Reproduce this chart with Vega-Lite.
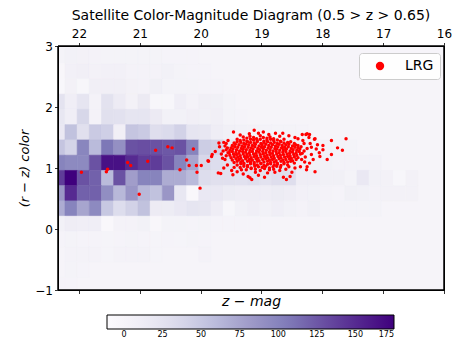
{
  "$schema": "https://vega.github.io/schema/vega-lite/v6.json",
  "width": 386,
  "height": 244,
  "autosize": {"type": "none"},
  "padding": {"left": 58, "top": 46, "right": 16, "bottom": 55},
  "title": {"text": "Satellite Color-Magnitude Diagram (0.5 > z > 0.65)", "fontSize": 14, "fontWeight": "normal", "font": "DejaVu Sans", "color": "#000", "offset": 5},
  "config": {
    "font": "DejaVu Sans",
    "view": {"fill": "#f6f4f9", "stroke": "#000", "strokeWidth": 1},
    "axis": {"domain": true, "domainColor": "#000", "domainWidth": 1, "grid": false, "tickColor": "#000", "tickSize": 3.5, "tickWidth": 0.8, "labelColor": "#000", "labelFont": "DejaVu Sans", "labelFontSize": 12, "titleFont": "DejaVu Sans", "titleColor": "#000", "titleFontWeight": "normal", "labelFlush": false, "labelOverlap": false}
  },
  "datasets": {
    "cells": [
        {"m0":22.23,"m1":22.43,"c0":2.71,"c1":2.96,"n":3},{"m0":22.03,"m1":22.23,"c0":2.71,"c1":2.96,"n":6},{"m0":21.83,"m1":22.03,"c0":2.71,"c1":2.96,"n":5},{"m0":21.63,"m1":21.83,"c0":2.71,"c1":2.96,"n":4},{"m0":21.43,"m1":21.63,"c0":2.71,"c1":2.96,"n":3},{"m0":21.23,"m1":21.43,"c0":2.71,"c1":2.96,"n":3},{"m0":21.03,"m1":21.23,"c0":2.71,"c1":2.96,"n":3},{"m0":20.83,"m1":21.03,"c0":2.71,"c1":2.96,"n":3},{"m0":20.63,"m1":20.83,"c0":2.71,"c1":2.96,"n":3},{"m0":20.43,"m1":20.63,"c0":2.71,"c1":2.96,"n":2},{"m0":20.23,"m1":20.43,"c0":2.71,"c1":2.96,"n":2},{"m0":20.03,"m1":20.23,"c0":2.71,"c1":2.96,"n":2},
        {"m0":22.23,"m1":22.43,"c0":2.46,"c1":2.71,"n":-3},{"m0":22.03,"m1":22.23,"c0":2.46,"c1":2.71,"n":7},{"m0":21.83,"m1":22.03,"c0":2.46,"c1":2.71,"n":9},{"m0":21.63,"m1":21.83,"c0":2.46,"c1":2.71,"n":5},{"m0":21.43,"m1":21.63,"c0":2.46,"c1":2.71,"n":7},{"m0":21.23,"m1":21.43,"c0":2.46,"c1":2.71,"n":7},{"m0":21.03,"m1":21.23,"c0":2.46,"c1":2.71,"n":4},{"m0":20.83,"m1":21.03,"c0":2.46,"c1":2.71,"n":4},{"m0":20.63,"m1":20.83,"c0":2.46,"c1":2.71,"n":4},{"m0":20.43,"m1":20.63,"c0":2.46,"c1":2.71,"n":6},{"m0":20.23,"m1":20.43,"c0":2.46,"c1":2.71,"n":3},{"m0":20.03,"m1":20.23,"c0":2.46,"c1":2.71,"n":2},{"m0":19.83,"m1":20.03,"c0":2.46,"c1":2.71,"n":2},
        {"m0":22.23,"m1":22.43,"c0":2.21,"c1":2.46,"n":-4},{"m0":22.03,"m1":22.23,"c0":2.21,"c1":2.46,"n":5},{"m0":21.83,"m1":22.03,"c0":2.21,"c1":2.46,"n":-2},{"m0":21.63,"m1":21.83,"c0":2.21,"c1":2.46,"n":9},{"m0":21.43,"m1":21.63,"c0":2.21,"c1":2.46,"n":9},{"m0":21.23,"m1":21.43,"c0":2.21,"c1":2.46,"n":9},{"m0":21.03,"m1":21.23,"c0":2.21,"c1":2.46,"n":5},{"m0":20.83,"m1":21.03,"c0":2.21,"c1":2.46,"n":4},{"m0":20.63,"m1":20.83,"c0":2.21,"c1":2.46,"n":8},{"m0":20.43,"m1":20.63,"c0":2.21,"c1":2.46,"n":3},{"m0":20.23,"m1":20.43,"c0":2.21,"c1":2.46,"n":3},{"m0":20.03,"m1":20.23,"c0":2.21,"c1":2.46,"n":3},{"m0":19.83,"m1":20.03,"c0":2.21,"c1":2.46,"n":2},{"m0":19.63,"m1":19.83,"c0":2.21,"c1":2.46,"n":2},
        {"m0":22.23,"m1":22.43,"c0":1.96,"c1":2.21,"n":24},{"m0":22.03,"m1":22.23,"c0":1.96,"c1":2.21,"n":10},{"m0":21.83,"m1":22.03,"c0":1.96,"c1":2.21,"n":22},{"m0":21.63,"m1":21.83,"c0":1.96,"c1":2.21,"n":4},{"m0":21.43,"m1":21.63,"c0":1.96,"c1":2.21,"n":26},{"m0":21.23,"m1":21.43,"c0":1.96,"c1":2.21,"n":15},{"m0":21.03,"m1":21.23,"c0":1.96,"c1":2.21,"n":5},{"m0":20.83,"m1":21.03,"c0":1.96,"c1":2.21,"n":16},{"m0":20.63,"m1":20.83,"c0":1.96,"c1":2.21,"n":-2},{"m0":20.43,"m1":20.63,"c0":1.96,"c1":2.21,"n":-2},{"m0":20.23,"m1":20.43,"c0":1.96,"c1":2.21,"n":10},{"m0":20.03,"m1":20.23,"c0":1.96,"c1":2.21,"n":4},{"m0":19.83,"m1":20.03,"c0":1.96,"c1":2.21,"n":9},{"m0":19.63,"m1":19.83,"c0":1.96,"c1":2.21,"n":8},{"m0":19.43,"m1":19.63,"c0":1.96,"c1":2.21,"n":3},
        {"m0":22.23,"m1":22.43,"c0":1.71,"c1":1.96,"n":20},{"m0":22.03,"m1":22.23,"c0":1.71,"c1":1.96,"n":10},{"m0":21.83,"m1":22.03,"c0":1.71,"c1":1.96,"n":38},{"m0":21.63,"m1":21.83,"c0":1.71,"c1":1.96,"n":4},{"m0":21.43,"m1":21.63,"c0":1.71,"c1":1.96,"n":28},{"m0":21.23,"m1":21.43,"c0":1.71,"c1":1.96,"n":27},{"m0":21.03,"m1":21.23,"c0":1.71,"c1":1.96,"n":22},{"m0":20.83,"m1":21.03,"c0":1.71,"c1":1.96,"n":22},{"m0":20.63,"m1":20.83,"c0":1.71,"c1":1.96,"n":16},{"m0":20.43,"m1":20.63,"c0":1.71,"c1":1.96,"n":6},{"m0":20.23,"m1":20.43,"c0":1.71,"c1":1.96,"n":6},{"m0":20.03,"m1":20.23,"c0":1.71,"c1":1.96,"n":9},{"m0":19.83,"m1":20.03,"c0":1.71,"c1":1.96,"n":6},{"m0":19.63,"m1":19.83,"c0":1.71,"c1":1.96,"n":9},{"m0":19.43,"m1":19.63,"c0":1.71,"c1":1.96,"n":3},{"m0":19.23,"m1":19.43,"c0":1.71,"c1":1.96,"n":2},
        {"m0":22.23,"m1":22.43,"c0":1.46,"c1":1.71,"n":18},{"m0":22.03,"m1":22.23,"c0":1.46,"c1":1.71,"n":55},{"m0":21.83,"m1":22.03,"c0":1.46,"c1":1.71,"n":28},{"m0":21.63,"m1":21.83,"c0":1.46,"c1":1.71,"n":48},{"m0":21.43,"m1":21.63,"c0":1.46,"c1":1.71,"n":44},{"m0":21.23,"m1":21.43,"c0":1.46,"c1":1.71,"n":9},{"m0":21.03,"m1":21.23,"c0":1.46,"c1":1.71,"n":52},{"m0":20.83,"m1":21.03,"c0":1.46,"c1":1.71,"n":48},{"m0":20.63,"m1":20.83,"c0":1.46,"c1":1.71,"n":30},{"m0":20.43,"m1":20.63,"c0":1.46,"c1":1.71,"n":34},{"m0":20.23,"m1":20.43,"c0":1.46,"c1":1.71,"n":42},{"m0":20.03,"m1":20.23,"c0":1.46,"c1":1.71,"n":22},{"m0":19.83,"m1":20.03,"c0":1.46,"c1":1.71,"n":20},{"m0":19.63,"m1":19.83,"c0":1.46,"c1":1.71,"n":12},{"m0":19.43,"m1":19.63,"c0":1.46,"c1":1.71,"n":8},{"m0":19.23,"m1":19.43,"c0":1.46,"c1":1.71,"n":6},{"m0":19.03,"m1":19.23,"c0":1.46,"c1":1.71,"n":5},{"m0":18.83,"m1":19.03,"c0":1.46,"c1":1.71,"n":4},{"m0":18.63,"m1":18.83,"c0":1.46,"c1":1.71,"n":3},{"m0":18.43,"m1":18.63,"c0":1.46,"c1":1.71,"n":3},{"m0":18.23,"m1":18.43,"c0":1.46,"c1":1.71,"n":2},
        {"m0":22.23,"m1":22.43,"c0":1.21,"c1":1.46,"n":52},{"m0":22.03,"m1":22.23,"c0":1.21,"c1":1.46,"n":40},{"m0":21.83,"m1":22.03,"c0":1.21,"c1":1.46,"n":98},{"m0":21.63,"m1":21.83,"c0":1.21,"c1":1.46,"n":60},{"m0":21.43,"m1":21.63,"c0":1.21,"c1":1.46,"n":108},{"m0":21.23,"m1":21.43,"c0":1.21,"c1":1.46,"n":90},{"m0":21.03,"m1":21.23,"c0":1.21,"c1":1.46,"n":128},{"m0":20.83,"m1":21.03,"c0":1.21,"c1":1.46,"n":130},{"m0":20.63,"m1":20.83,"c0":1.21,"c1":1.46,"n":128},{"m0":20.43,"m1":20.63,"c0":1.21,"c1":1.46,"n":125},{"m0":20.23,"m1":20.43,"c0":1.21,"c1":1.46,"n":128},{"m0":20.03,"m1":20.23,"c0":1.21,"c1":1.46,"n":100},{"m0":19.83,"m1":20.03,"c0":1.21,"c1":1.46,"n":46},{"m0":19.63,"m1":19.83,"c0":1.21,"c1":1.46,"n":42},{"m0":19.43,"m1":19.63,"c0":1.21,"c1":1.46,"n":22},{"m0":19.23,"m1":19.43,"c0":1.21,"c1":1.46,"n":16},{"m0":19.03,"m1":19.23,"c0":1.21,"c1":1.46,"n":15},{"m0":18.83,"m1":19.03,"c0":1.21,"c1":1.46,"n":15},{"m0":18.63,"m1":18.83,"c0":1.21,"c1":1.46,"n":14},{"m0":18.43,"m1":18.63,"c0":1.21,"c1":1.46,"n":12},{"m0":18.23,"m1":18.43,"c0":1.21,"c1":1.46,"n":10},{"m0":18.03,"m1":18.23,"c0":1.21,"c1":1.46,"n":8},{"m0":17.83,"m1":18.03,"c0":1.21,"c1":1.46,"n":6},{"m0":17.63,"m1":17.83,"c0":1.21,"c1":1.46,"n":4},{"m0":17.43,"m1":17.63,"c0":1.21,"c1":1.46,"n":3},
        {"m0":22.23,"m1":22.43,"c0":0.96,"c1":1.21,"n":100},{"m0":22.03,"m1":22.23,"c0":0.96,"c1":1.21,"n":95},{"m0":21.83,"m1":22.03,"c0":0.96,"c1":1.21,"n":95},{"m0":21.63,"m1":21.83,"c0":0.96,"c1":1.21,"n":128},{"m0":21.43,"m1":21.63,"c0":0.96,"c1":1.21,"n":165},{"m0":21.23,"m1":21.43,"c0":0.96,"c1":1.21,"n":165},{"m0":21.03,"m1":21.23,"c0":0.96,"c1":1.21,"n":150},{"m0":20.83,"m1":21.03,"c0":0.96,"c1":1.21,"n":140},{"m0":20.63,"m1":20.83,"c0":0.96,"c1":1.21,"n":140},{"m0":20.43,"m1":20.63,"c0":0.96,"c1":1.21,"n":128},{"m0":20.23,"m1":20.43,"c0":0.96,"c1":1.21,"n":100},{"m0":20.03,"m1":20.23,"c0":0.96,"c1":1.21,"n":75},{"m0":19.83,"m1":20.03,"c0":0.96,"c1":1.21,"n":38},{"m0":19.63,"m1":19.83,"c0":0.96,"c1":1.21,"n":32},{"m0":19.43,"m1":19.63,"c0":0.96,"c1":1.21,"n":28},{"m0":19.23,"m1":19.43,"c0":0.96,"c1":1.21,"n":25},{"m0":19.03,"m1":19.23,"c0":0.96,"c1":1.21,"n":22},{"m0":18.83,"m1":19.03,"c0":0.96,"c1":1.21,"n":20},{"m0":18.63,"m1":18.83,"c0":0.96,"c1":1.21,"n":18},{"m0":18.43,"m1":18.63,"c0":0.96,"c1":1.21,"n":16},{"m0":18.23,"m1":18.43,"c0":0.96,"c1":1.21,"n":12},{"m0":18.03,"m1":18.23,"c0":0.96,"c1":1.21,"n":8},{"m0":17.83,"m1":18.03,"c0":0.96,"c1":1.21,"n":6},{"m0":17.63,"m1":17.83,"c0":0.96,"c1":1.21,"n":4},{"m0":17.43,"m1":17.63,"c0":0.96,"c1":1.21,"n":4},{"m0":17.23,"m1":17.43,"c0":0.96,"c1":1.21,"n":4},{"m0":17.03,"m1":17.23,"c0":0.96,"c1":1.21,"n":4},
        {"m0":22.23,"m1":22.43,"c0":0.71,"c1":0.96,"n":140},{"m0":22.03,"m1":22.23,"c0":0.71,"c1":0.96,"n":175},{"m0":21.83,"m1":22.03,"c0":0.71,"c1":0.96,"n":128},{"m0":21.63,"m1":21.83,"c0":0.71,"c1":0.96,"n":120},{"m0":21.43,"m1":21.63,"c0":0.71,"c1":0.96,"n":60},{"m0":21.23,"m1":21.43,"c0":0.71,"c1":0.96,"n":128},{"m0":21.03,"m1":21.23,"c0":0.71,"c1":0.96,"n":80},{"m0":20.83,"m1":21.03,"c0":0.71,"c1":0.96,"n":100},{"m0":20.63,"m1":20.83,"c0":0.71,"c1":0.96,"n":100},{"m0":20.43,"m1":20.63,"c0":0.71,"c1":0.96,"n":70},{"m0":20.23,"m1":20.43,"c0":0.71,"c1":0.96,"n":70},{"m0":20.03,"m1":20.23,"c0":0.71,"c1":0.96,"n":60},{"m0":19.83,"m1":20.03,"c0":0.71,"c1":0.96,"n":32},{"m0":19.63,"m1":19.83,"c0":0.71,"c1":0.96,"n":28},{"m0":19.43,"m1":19.63,"c0":0.71,"c1":0.96,"n":28},{"m0":19.23,"m1":19.43,"c0":0.71,"c1":0.96,"n":27},{"m0":19.03,"m1":19.23,"c0":0.71,"c1":0.96,"n":30},{"m0":18.83,"m1":19.03,"c0":0.71,"c1":0.96,"n":26},{"m0":18.63,"m1":18.83,"c0":0.71,"c1":0.96,"n":30},{"m0":18.43,"m1":18.63,"c0":0.71,"c1":0.96,"n":30},{"m0":18.23,"m1":18.43,"c0":0.71,"c1":0.96,"n":12},{"m0":18.03,"m1":18.23,"c0":0.71,"c1":0.96,"n":12},{"m0":17.83,"m1":18.03,"c0":0.71,"c1":0.96,"n":8},{"m0":17.63,"m1":17.83,"c0":0.71,"c1":0.96,"n":8},{"m0":17.43,"m1":17.63,"c0":0.71,"c1":0.96,"n":3},{"m0":17.23,"m1":17.43,"c0":0.71,"c1":0.96,"n":18},{"m0":17.03,"m1":17.23,"c0":0.71,"c1":0.96,"n":6},{"m0":16.83,"m1":17.03,"c0":0.71,"c1":0.96,"n":5},{"m0":16.63,"m1":16.83,"c0":0.71,"c1":0.96,"n":-2},{"m0":16.43,"m1":16.63,"c0":0.71,"c1":0.96,"n":5},
        {"m0":22.23,"m1":22.43,"c0":0.46,"c1":0.71,"n":85},{"m0":22.03,"m1":22.23,"c0":0.46,"c1":0.71,"n":150},{"m0":21.83,"m1":22.03,"c0":0.46,"c1":0.71,"n":120},{"m0":21.63,"m1":21.83,"c0":0.46,"c1":0.71,"n":120},{"m0":21.43,"m1":21.63,"c0":0.46,"c1":0.71,"n":92},{"m0":21.23,"m1":21.43,"c0":0.46,"c1":0.71,"n":62},{"m0":21.03,"m1":21.23,"c0":0.46,"c1":0.71,"n":85},{"m0":20.83,"m1":21.03,"c0":0.46,"c1":0.71,"n":62},{"m0":20.63,"m1":20.83,"c0":0.46,"c1":0.71,"n":55},{"m0":20.43,"m1":20.63,"c0":0.46,"c1":0.71,"n":85},{"m0":20.23,"m1":20.43,"c0":0.46,"c1":0.71,"n":20},{"m0":20.03,"m1":20.23,"c0":0.46,"c1":0.71,"n":-5},{"m0":19.83,"m1":20.03,"c0":0.46,"c1":0.71,"n":18},{"m0":19.63,"m1":19.83,"c0":0.46,"c1":0.71,"n":18},{"m0":19.43,"m1":19.63,"c0":0.46,"c1":0.71,"n":14},{"m0":19.23,"m1":19.43,"c0":0.46,"c1":0.71,"n":12},{"m0":19.03,"m1":19.23,"c0":0.46,"c1":0.71,"n":12},{"m0":18.83,"m1":19.03,"c0":0.46,"c1":0.71,"n":12},{"m0":18.63,"m1":18.83,"c0":0.46,"c1":0.71,"n":14},{"m0":18.43,"m1":18.63,"c0":0.46,"c1":0.71,"n":12},{"m0":18.23,"m1":18.43,"c0":0.46,"c1":0.71,"n":7},{"m0":18.03,"m1":18.23,"c0":0.46,"c1":0.71,"n":6},{"m0":17.83,"m1":18.03,"c0":0.46,"c1":0.71,"n":4},{"m0":17.63,"m1":17.83,"c0":0.46,"c1":0.71,"n":2},{"m0":17.43,"m1":17.63,"c0":0.46,"c1":0.71,"n":8},{"m0":17.23,"m1":17.43,"c0":0.46,"c1":0.71,"n":6},{"m0":17.03,"m1":17.23,"c0":0.46,"c1":0.71,"n":4},{"m0":16.83,"m1":17.03,"c0":0.46,"c1":0.71,"n":5},{"m0":16.63,"m1":16.83,"c0":0.46,"c1":0.71,"n":5},{"m0":16.43,"m1":16.63,"c0":0.46,"c1":0.71,"n":5},
        {"m0":22.23,"m1":22.43,"c0":0.21,"c1":0.46,"n":70},{"m0":22.03,"m1":22.23,"c0":0.21,"c1":0.46,"n":100},{"m0":21.83,"m1":22.03,"c0":0.21,"c1":0.46,"n":75},{"m0":21.63,"m1":21.83,"c0":0.21,"c1":0.46,"n":95},{"m0":21.43,"m1":21.63,"c0":0.21,"c1":0.46,"n":50},{"m0":21.23,"m1":21.43,"c0":0.21,"c1":0.46,"n":32},{"m0":21.03,"m1":21.23,"c0":0.21,"c1":0.46,"n":42},{"m0":20.83,"m1":21.03,"c0":0.21,"c1":0.46,"n":55},{"m0":20.63,"m1":20.83,"c0":0.21,"c1":0.46,"n":15},{"m0":20.43,"m1":20.63,"c0":0.21,"c1":0.46,"n":14},{"m0":20.23,"m1":20.43,"c0":0.21,"c1":0.46,"n":18},{"m0":20.03,"m1":20.23,"c0":0.21,"c1":0.46,"n":22},{"m0":19.83,"m1":20.03,"c0":0.21,"c1":0.46,"n":20},{"m0":19.63,"m1":19.83,"c0":0.21,"c1":0.46,"n":12},{"m0":19.43,"m1":19.63,"c0":0.21,"c1":0.46,"n":-2},{"m0":19.23,"m1":19.43,"c0":0.21,"c1":0.46,"n":6},{"m0":19.03,"m1":19.23,"c0":0.21,"c1":0.46,"n":10},{"m0":18.83,"m1":19.03,"c0":0.21,"c1":0.46,"n":6},{"m0":18.63,"m1":18.83,"c0":0.21,"c1":0.46,"n":10},{"m0":18.43,"m1":18.63,"c0":0.21,"c1":0.46,"n":6},{"m0":18.23,"m1":18.43,"c0":0.21,"c1":0.46,"n":4},{"m0":18.03,"m1":18.23,"c0":0.21,"c1":0.46,"n":8},{"m0":17.83,"m1":18.03,"c0":0.21,"c1":0.46,"n":3},{"m0":17.63,"m1":17.83,"c0":0.21,"c1":0.46,"n":3},{"m0":17.43,"m1":17.63,"c0":0.21,"c1":0.46,"n":3},{"m0":17.23,"m1":17.43,"c0":0.21,"c1":0.46,"n":3},{"m0":17.03,"m1":17.23,"c0":0.21,"c1":0.46,"n":3},
        {"m0":22.23,"m1":22.43,"c0":-0.04,"c1":0.21,"n":6},{"m0":22.03,"m1":22.23,"c0":-0.04,"c1":0.21,"n":12},{"m0":21.83,"m1":22.03,"c0":-0.04,"c1":0.21,"n":10},{"m0":21.63,"m1":21.83,"c0":-0.04,"c1":0.21,"n":10},{"m0":21.43,"m1":21.63,"c0":-0.04,"c1":0.21,"n":-5},{"m0":21.23,"m1":21.43,"c0":-0.04,"c1":0.21,"n":4},{"m0":21.03,"m1":21.23,"c0":-0.04,"c1":0.21,"n":4},{"m0":20.83,"m1":21.03,"c0":-0.04,"c1":0.21,"n":6},{"m0":20.63,"m1":20.83,"c0":-0.04,"c1":0.21,"n":-3},{"m0":20.43,"m1":20.63,"c0":-0.04,"c1":0.21,"n":3},{"m0":20.23,"m1":20.43,"c0":-0.04,"c1":0.21,"n":3},{"m0":20.03,"m1":20.23,"c0":-0.04,"c1":0.21,"n":2},{"m0":19.83,"m1":20.03,"c0":-0.04,"c1":0.21,"n":3},{"m0":19.63,"m1":19.83,"c0":-0.04,"c1":0.21,"n":2},{"m0":19.43,"m1":19.63,"c0":-0.04,"c1":0.21,"n":2},{"m0":19.23,"m1":19.43,"c0":-0.04,"c1":0.21,"n":2},{"m0":19.03,"m1":19.23,"c0":-0.04,"c1":0.21,"n":2},
        {"m0":22.23,"m1":22.43,"c0":-0.29,"c1":-0.04,"n":2},{"m0":22.03,"m1":22.23,"c0":-0.29,"c1":-0.04,"n":3},{"m0":21.83,"m1":22.03,"c0":-0.29,"c1":-0.04,"n":2},{"m0":21.63,"m1":21.83,"c0":-0.29,"c1":-0.04,"n":2},{"m0":21.43,"m1":21.63,"c0":-0.29,"c1":-0.04,"n":1},{"m0":21.23,"m1":21.43,"c0":-0.29,"c1":-0.04,"n":2},{"m0":21.03,"m1":21.23,"c0":-0.29,"c1":-0.04,"n":3},{"m0":20.83,"m1":21.03,"c0":-0.29,"c1":-0.04,"n":2},{"m0":20.63,"m1":20.83,"c0":-0.29,"c1":-0.04,"n":1},{"m0":20.43,"m1":20.63,"c0":-0.29,"c1":-0.04,"n":2},{"m0":20.23,"m1":20.43,"c0":-0.29,"c1":-0.04,"n":1},{"m0":20.03,"m1":20.23,"c0":-0.29,"c1":-0.04,"n":3},{"m0":19.83,"m1":20.03,"c0":-0.29,"c1":-0.04,"n":2},
        {"m0":22.03,"m1":22.23,"c0":-0.54,"c1":-0.29,"n":4},{"m0":21.83,"m1":22.03,"c0":-0.54,"c1":-0.29,"n":4},{"m0":21.63,"m1":21.83,"c0":-0.54,"c1":-0.29,"n":4},{"m0":21.43,"m1":21.63,"c0":-0.54,"c1":-0.29,"n":1},{"m0":21.23,"m1":21.43,"c0":-0.54,"c1":-0.29,"n":4},{"m0":21.03,"m1":21.23,"c0":-0.54,"c1":-0.29,"n":4},{"m0":20.83,"m1":21.03,"c0":-0.54,"c1":-0.29,"n":4},{"m0":20.63,"m1":20.83,"c0":-0.54,"c1":-0.29,"n":1},{"m0":19.83,"m1":20.03,"c0":-0.54,"c1":-0.29,"n":4},
        {"m0":22.03,"m1":22.23,"c0":-0.79,"c1":-0.54,"n":3},{"m0":21.83,"m1":22.03,"c0":-0.79,"c1":-0.54,"n":2},
        {"m0":22.23,"m1":22.43,"c0":-1.04,"c1":-0.79,"n":2},{"m0":22.03,"m1":22.23,"c0":-1.04,"c1":-0.79,"n":2}
    ]
  },
  "layer": [
    {
      "data": {"name": "cells"},
      "mark": {"type": "rect", "clip": true, "strokeWidth": 0.6, "stroke": {"expr": "scale('color', datum.n)"}},
      "encoding": {
        "x": {"field": "m0", "type": "quantitative", "scale": {"domain": [16, 22.345], "reverse": true, "nice": false, "zero": false},
              "axis": {"orient": "top", "values": [16, 17, 18, 19, 20, 21, 22], "format": "d", "title": null, "labelPadding": 2, "zindex": 2}},
        "x2": {"field": "m1"},
        "y": {"field": "c0", "type": "quantitative", "scale": {"domain": [-1, 3], "nice": false, "zero": false},
              "axis": {"orient": "left", "values": [-1, 0, 1, 2, 3], "format": "d", "title": "(r − z) color", "titleFontStyle": "italic", "titleFontSize": 13, "titlePadding": 3, "labelPadding": 2, "zindex": 2}},
        "y2": {"field": "c1"},
        "color": {"field": "n", "type": "quantitative",
                  "scale": {"domain": [-11, 175], "range": ["#fcfbfd", "#efedf5", "#dadaeb", "#bcbddc", "#9e9ac8", "#807dba", "#6a51a3", "#54278f", "#3f007d"], "interpolate": "rgb"},
                  "legend": {"type": "gradient", "orient": "none", "legendX": 49, "legendY": 269, "direction": "horizontal", "gradientLength": 287, "gradientThickness": 14, "title": null, "values": [0, 25, 50, 75, 100, 125, 150, 175], "labelFontSize": 8, "labelOverlap": false, "gradientStrokeColor": "#000", "gradientStrokeWidth": 1}}
      }
    },
    {
      "data": {"values": [
        {"mag":19.30,"color":1.51},{"mag":19.24,"color":1.49},{"mag":19.19,"color":1.52},{"mag":19.13,"color":1.50},{"mag":19.08,"color":1.48},{"mag":19.02,"color":1.53},{"mag":18.97,"color":1.50},{"mag":18.91,"color":1.49},{"mag":18.86,"color":1.51},{"mag":18.80,"color":1.48},
        {"mag":19.40,"color":1.47},{"mag":19.35,"color":1.45},{"mag":19.29,"color":1.46},{"mag":19.24,"color":1.44},{"mag":19.18,"color":1.47},{"mag":19.13,"color":1.46},{"mag":19.07,"color":1.45},{"mag":19.02,"color":1.47},{"mag":18.96,"color":1.44},{"mag":18.91,"color":1.46},{"mag":18.85,"color":1.47},{"mag":18.80,"color":1.45},{"mag":18.74,"color":1.46},{"mag":18.69,"color":1.44},{"mag":18.63,"color":1.47},
        {"mag":19.45,"color":1.41},{"mag":19.40,"color":1.43},{"mag":19.34,"color":1.42},{"mag":19.29,"color":1.40},{"mag":19.23,"color":1.43},{"mag":19.18,"color":1.42},{"mag":19.12,"color":1.41},{"mag":19.07,"color":1.43},{"mag":19.01,"color":1.40},{"mag":18.96,"color":1.42},{"mag":18.90,"color":1.43},{"mag":18.85,"color":1.41},{"mag":18.79,"color":1.42},{"mag":18.74,"color":1.40},{"mag":18.68,"color":1.43},{"mag":18.63,"color":1.41},{"mag":18.57,"color":1.42},{"mag":18.52,"color":1.43},{"mag":18.46,"color":1.40},
        {"mag":19.48,"color":1.37},{"mag":19.43,"color":1.39},{"mag":19.37,"color":1.38},{"mag":19.32,"color":1.36},{"mag":19.26,"color":1.39},{"mag":19.21,"color":1.38},{"mag":19.15,"color":1.37},{"mag":19.10,"color":1.39},{"mag":19.04,"color":1.36},{"mag":18.99,"color":1.38},{"mag":18.93,"color":1.39},{"mag":18.88,"color":1.37},{"mag":18.82,"color":1.38},{"mag":18.77,"color":1.36},{"mag":18.71,"color":1.39},{"mag":18.66,"color":1.37},{"mag":18.60,"color":1.38},{"mag":18.55,"color":1.39},{"mag":18.49,"color":1.36},{"mag":18.44,"color":1.38},{"mag":18.40,"color":1.37},
        {"mag":19.50,"color":1.33},{"mag":19.44,"color":1.35},{"mag":19.39,"color":1.34},{"mag":19.33,"color":1.32},{"mag":19.28,"color":1.35},{"mag":19.22,"color":1.34},{"mag":19.17,"color":1.33},{"mag":19.11,"color":1.35},{"mag":19.06,"color":1.32},{"mag":19.00,"color":1.34},{"mag":18.95,"color":1.35},{"mag":18.89,"color":1.33},{"mag":18.84,"color":1.34},{"mag":18.78,"color":1.32},{"mag":18.73,"color":1.35},{"mag":18.67,"color":1.33},{"mag":18.62,"color":1.34},{"mag":18.56,"color":1.35},{"mag":18.51,"color":1.32},{"mag":18.45,"color":1.34},{"mag":18.40,"color":1.33},{"mag":18.35,"color":1.35},
        {"mag":19.52,"color":1.29},{"mag":19.47,"color":1.31},{"mag":19.41,"color":1.30},{"mag":19.36,"color":1.28},{"mag":19.30,"color":1.31},{"mag":19.25,"color":1.30},{"mag":19.19,"color":1.29},{"mag":19.14,"color":1.31},{"mag":19.08,"color":1.28},{"mag":19.03,"color":1.30},{"mag":18.97,"color":1.31},{"mag":18.92,"color":1.29},{"mag":18.86,"color":1.30},{"mag":18.81,"color":1.28},{"mag":18.75,"color":1.31},{"mag":18.70,"color":1.29},{"mag":18.64,"color":1.30},{"mag":18.59,"color":1.31},{"mag":18.53,"color":1.28},{"mag":18.48,"color":1.30},{"mag":18.42,"color":1.29},{"mag":18.37,"color":1.31},
        {"mag":19.53,"color":1.25},{"mag":19.48,"color":1.27},{"mag":19.42,"color":1.26},{"mag":19.37,"color":1.24},{"mag":19.31,"color":1.27},{"mag":19.26,"color":1.26},{"mag":19.20,"color":1.25},{"mag":19.15,"color":1.27},{"mag":19.09,"color":1.24},{"mag":19.04,"color":1.26},{"mag":18.98,"color":1.27},{"mag":18.93,"color":1.25},{"mag":18.87,"color":1.26},{"mag":18.82,"color":1.24},{"mag":18.76,"color":1.27},{"mag":18.71,"color":1.25},{"mag":18.65,"color":1.26},{"mag":18.60,"color":1.27},{"mag":18.54,"color":1.24},{"mag":18.49,"color":1.26},{"mag":18.43,"color":1.25},{"mag":18.38,"color":1.27},{"mag":18.33,"color":1.24},
        {"mag":19.52,"color":1.21},{"mag":19.46,"color":1.23},{"mag":19.41,"color":1.22},{"mag":19.35,"color":1.20},{"mag":19.30,"color":1.23},{"mag":19.24,"color":1.22},{"mag":19.19,"color":1.21},{"mag":19.13,"color":1.23},{"mag":19.08,"color":1.20},{"mag":19.02,"color":1.22},{"mag":18.97,"color":1.23},{"mag":18.91,"color":1.21},{"mag":18.86,"color":1.22},{"mag":18.80,"color":1.20},{"mag":18.75,"color":1.23},{"mag":18.69,"color":1.21},{"mag":18.64,"color":1.22},{"mag":18.58,"color":1.23},{"mag":18.53,"color":1.20},{"mag":18.47,"color":1.22},{"mag":18.42,"color":1.21},{"mag":18.36,"color":1.23},
        {"mag":19.50,"color":1.17},{"mag":19.45,"color":1.19},{"mag":19.39,"color":1.18},{"mag":19.34,"color":1.16},{"mag":19.28,"color":1.19},{"mag":19.23,"color":1.18},{"mag":19.17,"color":1.17},{"mag":19.12,"color":1.19},{"mag":19.06,"color":1.16},{"mag":19.01,"color":1.18},{"mag":18.95,"color":1.19},{"mag":18.90,"color":1.17},{"mag":18.84,"color":1.18},{"mag":18.79,"color":1.16},{"mag":18.73,"color":1.19},{"mag":18.68,"color":1.17},{"mag":18.62,"color":1.18},{"mag":18.57,"color":1.19},{"mag":18.51,"color":1.16},{"mag":18.46,"color":1.18},{"mag":18.40,"color":1.17},
        {"mag":19.48,"color":1.13},{"mag":19.42,"color":1.15},{"mag":19.37,"color":1.14},{"mag":19.31,"color":1.12},{"mag":19.26,"color":1.15},{"mag":19.20,"color":1.14},{"mag":19.15,"color":1.13},{"mag":19.09,"color":1.15},{"mag":19.04,"color":1.12},{"mag":18.98,"color":1.14},{"mag":18.93,"color":1.15},{"mag":18.87,"color":1.13},{"mag":18.82,"color":1.14},{"mag":18.76,"color":1.12},{"mag":18.71,"color":1.15},{"mag":18.65,"color":1.13},{"mag":18.60,"color":1.14},{"mag":18.54,"color":1.15},{"mag":18.49,"color":1.12},{"mag":18.43,"color":1.14},
        {"mag":19.45,"color":1.09},{"mag":19.40,"color":1.11},{"mag":19.34,"color":1.10},{"mag":19.29,"color":1.08},{"mag":19.23,"color":1.11},{"mag":19.18,"color":1.10},{"mag":19.12,"color":1.09},{"mag":19.07,"color":1.11},{"mag":19.01,"color":1.08},{"mag":18.96,"color":1.10},{"mag":18.90,"color":1.11},{"mag":18.85,"color":1.09},{"mag":18.79,"color":1.10},{"mag":18.74,"color":1.08},{"mag":18.68,"color":1.11},{"mag":18.63,"color":1.09},{"mag":18.57,"color":1.10},{"mag":18.52,"color":1.11},{"mag":18.46,"color":1.08},
        {"mag":19.40,"color":1.05},{"mag":19.34,"color":1.07},{"mag":19.29,"color":1.06},{"mag":19.23,"color":1.04},{"mag":19.18,"color":1.07},{"mag":19.12,"color":1.06},{"mag":19.07,"color":1.05},{"mag":19.01,"color":1.07},{"mag":18.96,"color":1.04},{"mag":18.90,"color":1.06},{"mag":18.85,"color":1.07},{"mag":18.79,"color":1.05},{"mag":18.74,"color":1.06},{"mag":18.68,"color":1.04},{"mag":18.63,"color":1.07},{"mag":18.57,"color":1.05},
        {"mag":19.35,"color":1.01},{"mag":19.29,"color":1.03},{"mag":19.23,"color":1.02},{"mag":19.17,"color":1.00},{"mag":19.11,"color":1.03},{"mag":19.05,"color":1.02},{"mag":18.99,"color":1.01},{"mag":18.93,"color":1.03},{"mag":18.87,"color":1.00},{"mag":18.81,"color":1.02},{"mag":18.75,"color":1.03},{"mag":18.69,"color":1.01},
        {"mag":19.25,"color":0.97},{"mag":19.17,"color":0.99},{"mag":19.10,"color":0.98},{"mag":19.02,"color":0.96},{"mag":18.95,"color":0.99},{"mag":18.87,"color":0.97},{"mag":18.80,"color":0.98},
        {"mag":19.46,"color":1.59},{"mag":18.97,"color":1.59},{"mag":18.77,"color":1.57},{"mag":18.65,"color":1.57},{"mag":19.20,"color":1.56},{"mag":19.05,"color":1.57},{"mag":18.88,"color":1.55},{"mag":19.35,"color":1.54},{"mag":18.55,"color":1.53},{"mag":18.33,"color":1.55},{"mag":18.27,"color":1.55},{"mag":19.12,"color":1.62},{"mag":18.70,"color":1.52},{"mag":18.45,"color":1.50},{"mag":18.40,"color":1.48},
        {"mag":17.61,"color":1.48},{"mag":17.85,"color":1.45},{"mag":17.67,"color":1.29},{"mag":17.85,"color":1.22},{"mag":17.92,"color":1.14},{"mag":17.99,"color":1.30},{"mag":18.04,"color":1.19},{"mag":18.12,"color":1.48},{"mag":18.10,"color":1.31},{"mag":18.21,"color":1.55},{"mag":18.25,"color":1.56},{"mag":18.15,"color":1.14},{"mag":18.12,"color":0.94},{"mag":18.21,"color":1.08},{"mag":18.26,"color":0.97},{"mag":18.34,"color":1.14},{"mag":18.13,"color":1.47},{"mag":17.99,"color":1.37},{"mag":18.20,"color":1.40},{"mag":18.25,"color":1.32},{"mag":18.30,"color":1.28},{"mag":18.18,"color":1.22},{"mag":18.28,"color":1.18},{"mag":18.05,"color":1.25},{"mag":18.25,"color":1.02},{"mag":18.32,"color":1.45},{"mag":18.22,"color":1.50},{"mag":18.08,"color":1.38},{"mag":17.75,"color":1.33},{"mag":18.30,"color":1.40},{"mag":18.29,"color":1.10},{"mag":18.18,"color":1.34},{"mag":18.36,"color":1.02},
        {"mag":19.19,"color":0.84},{"mag":19.16,"color":0.81},{"mag":18.59,"color":0.81},{"mag":18.53,"color":0.86},{"mag":18.78,"color":0.93},{"mag":19.47,"color":0.89},{"mag":19.67,"color":0.91},{"mag":19.71,"color":0.92},{"mag":19.49,"color":0.96},{"mag":19.33,"color":0.97},{"mag":18.64,"color":0.85},{"mag":19.30,"color":0.90},{"mag":19.05,"color":0.88},{"mag":18.90,"color":0.92},{"mag":18.70,"color":0.96},{"mag":19.40,"color":0.94},{"mag":18.50,"color":0.93},{"mag":18.95,"color":0.85},{"mag":19.10,"color":0.93},{"mag":19.22,"color":0.86},{"mag":18.60,"color":0.98},{"mag":18.45,"color":1.00},{"mag":19.45,"color":1.01},{"mag":18.55,"color":1.02},
        {"mag":19.70,"color":1.41},{"mag":19.87,"color":1.11},{"mag":19.58,"color":1.30},{"mag":19.60,"color":1.14},{"mag":19.64,"color":1.16},{"mag":19.66,"color":1.23},{"mag":19.69,"color":1.35},{"mag":19.76,"color":1.27},{"mag":19.81,"color":1.22},{"mag":19.82,"color":1.19},{"mag":19.88,"color":1.12},{"mag":19.55,"color":1.45},{"mag":19.56,"color":1.05},{"mag":19.58,"color":1.20},{"mag":19.60,"color":1.36},{"mag":19.62,"color":1.00},{"mag":19.55,"color":1.25},{"mag":19.58,"color":1.40},{"mag":19.56,"color":1.33},{"mag":19.63,"color":1.28},{"mag":19.62,"color":1.42},
        {"mag":21.96,"color":0.93},{"mag":21.53,"color":0.98},{"mag":21.55,"color":0.94},{"mag":21.20,"color":1.09},{"mag":21.15,"color":1.04},{"mag":21.01,"color":0.57},{"mag":20.87,"color":1.11},{"mag":20.74,"color":1.29},{"mag":20.54,"color":1.35},{"mag":20.47,"color":1.33},{"mag":20.34,"color":0.97},{"mag":20.23,"color":1.13},{"mag":20.19,"color":1.04},{"mag":20.12,"color":1.31},{"mag":20.07,"color":1.04},{"mag":20.06,"color":0.93},{"mag":20.01,"color":0.67},{"mag":19.99,"color":1.04}
      ]},
      "mark": {"type": "circle", "size": 12, "opacity": 1, "clip": true},
      "encoding": {
        "x": {"field": "mag", "type": "quantitative",
              "axis": {"orient": "bottom", "values": [16, 17, 18, 19, 20, 21, 22], "labels": false, "title": "z − mag", "titleFontStyle": "italic", "titleFontSize": 14, "titlePadding": 1, "zindex": 2}},
        "y": {"field": "color", "type": "quantitative",
              "axis": {"orient": "right", "ticks": false, "labels": false, "title": null, "zindex": 2}},
        "fill": {"datum": "LRG", "type": "nominal", "scale": {"domain": ["LRG"], "range": ["#ff0000"]},
                 "legend": {"title": null, "orient": "none", "legendX": 301, "legendY": 7, "symbolType": "circle", "symbolSize": 70, "symbolStrokeWidth": 0, "labelFontSize": 14, "labelFont": "DejaVu Sans", "labelColor": "#000", "padding": 6, "symbolOffset": 8, "labelOffset": 18, "fillColor": "rgba(255,255,255,0.85)", "strokeColor": "#cccccc", "cornerRadius": 3}}
      }
    },
    {
      "data": {"values": [
        {"mag_a": 16, "mag_b": 16, "color_a": -1, "color_b": 3},
        {"mag_a": 22.345, "mag_b": 22.345, "color_a": -1, "color_b": 3},
        {"mag_a": 16, "mag_b": 22.345, "color_a": -1, "color_b": -1},
        {"mag_a": 16, "mag_b": 22.345, "color_a": 3, "color_b": 3}
      ]},
      "mark": {"type": "rule", "color": "#000", "strokeWidth": 1.5, "clip": false},
      "encoding": {
        "x": {"field": "mag_a", "type": "quantitative", "axis": {"labels": false, "ticks": false, "domain": false, "title": null}},
        "x2": {"field": "mag_b"},
        "y": {"field": "color_a", "type": "quantitative", "axis": {"labels": false, "ticks": false, "domain": false, "title": null}},
        "y2": {"field": "color_b"}
      }
    }
  ]
}
